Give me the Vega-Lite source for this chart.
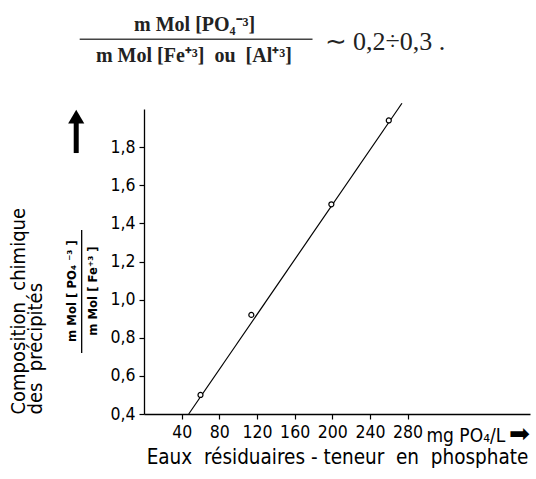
{
  "$schema": "https://vega.github.io/schema/vega-lite/v6.json",
  "width": 386,
  "height": 305,
  "autosize": {"type": "none"},
  "padding": {"left": 144, "top": 109, "right": 6, "bottom": 65},
  "background": "white",
  "config": {
    "view": {"stroke": null},
    "font": "DejaVu Sans Condensed",
    "axis": {
      "grid": false,
      "domainColor": "black",
      "domainWidth": 1.3,
      "tickColor": "black",
      "tickWidth": 1.2,
      "tickSize": 5,
      "labelColor": "black",
      "labelFont": "DejaVu Sans Condensed",
      "labelFontSize": 17.5,
      "labelPadding": 4,
      "labelOverlap": false,
      "labelBound": false,
      "titleColor": "black",
      "titleFont": "DejaVu Sans Condensed",
      "titleFontWeight": "normal",
      "titleFontSize": 20
    }
  },
  "datasets": {
    "points": [
      {"phosphate": 60, "ratio": 0.5},
      {"phosphate": 114, "ratio": 0.92},
      {"phosphate": 199, "ratio": 1.5},
      {"phosphate": 260, "ratio": 1.94}
    ],
    "fit": [
      {"phosphate": 47.5, "ratio": 0.4},
      {"phosphate": 274, "ratio": 2.03}
    ]
  },
  "layer": [
    {
      "data": {"name": "fit"},
      "mark": {"type": "line", "color": "black", "strokeWidth": 1.2, "clip": false},
      "encoding": {
        "x": {
          "field": "phosphate",
          "type": "quantitative",
          "scale": {"domain": [0, 410], "nice": false, "zero": false},
          "axis": {
            "values": [40, 80, 120, 160, 200, 240, 280],
            "title": "Eaux\u00a0 résiduaires\u00a0-\u00a0teneur\u00a0 en\u00a0 phosphate",
            "titleFontSize": 20.5,
            "titlePadding": 7
          }
        },
        "y": {
          "field": "ratio",
          "type": "quantitative",
          "scale": {"domain": [0.4, 2.0], "nice": false, "zero": false},
          "axis": {
            "values": [0.4, 0.6, 0.8, 1.0, 1.2, 1.4, 1.6, 1.8],
            "labelExpr": "replace(format(datum.value, '.1f'), '.', ',')",
            "title": ["Composition\u00a0 chimique", "des\u00a0 précipités"],
            "titleAnchor": "start",
            "titleLineHeight": 17,
            "titlePadding": 64
          }
        }
      }
    },
    {
      "data": {"name": "points"},
      "mark": {"type": "point", "shape": "circle", "filled": true, "fill": "white", "stroke": "black", "strokeWidth": 1.2, "size": 25, "opacity": 1},
      "encoding": {
        "x": {"field": "phosphate", "type": "quantitative"},
        "y": {"field": "ratio", "type": "quantitative"}
      }
    },
    {
      "data": {"values": [{}]},
      "mark": {"type": "text", "font": "Liberation Serif", "fontWeight": "bold", "fontSize": 20, "align": "center", "baseline": "middle", "color": "#222", "clip": false, "text": "m Mol [PO₄⁻³]"},
      "encoding": {"x": {"datum": 53.8, "type": "quantitative"}, "y": {"datum": 2.44, "type": "quantitative"}}
    },
    {
      "data": {"values": [{}]},
      "mark": {"type": "text", "font": "Liberation Serif", "fontWeight": "bold", "fontSize": 20, "align": "center", "baseline": "middle", "color": "#222", "clip": false, "text": "m Mol [Fe⁺³]\u00a0 ou\u00a0 [Al⁺³]"},
      "encoding": {"x": {"datum": 53, "type": "quantitative"}, "y": {"datum": 2.277, "type": "quantitative"}}
    },
    {
      "data": {"values": [{}]},
      "mark": {"type": "rule", "color": "#444", "strokeWidth": 1.3, "clip": false},
      "encoding": {"x": {"datum": -68.3, "type": "quantitative"}, "x2": {"datum": 179}, "y": {"datum": 2.366, "type": "quantitative"}}
    },
    {
      "data": {"values": [{}]},
      "mark": {"type": "text", "font": "Liberation Serif", "fontSize": 26, "align": "left", "baseline": "middle", "color": "#222", "clip": false, "text": "∼ 0,2÷0,3\u00a0."},
      "encoding": {"x": {"datum": 191.8, "type": "quantitative"}, "y": {"datum": 2.35, "type": "quantitative"}}
    },
    {
      "data": {"values": [{}]},
      "mark": {"type": "text", "fontWeight": "bold", "fontSize": 13, "angle": 270, "align": "center", "baseline": "middle", "color": "black", "clip": false, "text": "m Mol [ PO₄ ⁻³ ]"},
      "encoding": {"x": {"datum": -76.8, "type": "quantitative"}, "y": {"datum": 1.045, "type": "quantitative"}}
    },
    {
      "data": {"values": [{}]},
      "mark": {"type": "text", "fontWeight": "bold", "fontSize": 13, "angle": 270, "align": "center", "baseline": "middle", "color": "black", "clip": false, "text": "m Mol [ Fe⁺³ ]"},
      "encoding": {"x": {"datum": -54.5, "type": "quantitative"}, "y": {"datum": 1.045, "type": "quantitative"}}
    },
    {
      "data": {"values": [{}]},
      "mark": {"type": "rule", "color": "black", "strokeWidth": 1.3, "clip": false},
      "encoding": {"x": {"datum": -66.2, "type": "quantitative"}, "y": {"datum": 0.72, "type": "quantitative"}, "y2": {"datum": 1.365}}
    },
    {
      "data": {"values": [{}]},
      "mark": {"type": "rule", "color": "black", "strokeWidth": 5, "clip": false},
      "encoding": {"x": {"datum": -72, "type": "quantitative"}, "y": {"datum": 1.769, "type": "quantitative"}, "y2": {"datum": 1.93}}
    },
    {
      "data": {"values": [{}]},
      "mark": {"type": "point", "shape": "triangle-up", "filled": true, "color": "black", "size": 260, "opacity": 1, "clip": false},
      "encoding": {"x": {"datum": -72, "type": "quantitative"}, "y": {"datum": 1.96, "type": "quantitative"}}
    },
    {
      "data": {"values": [{}]},
      "mark": {"type": "text", "fontSize": 19, "align": "left", "baseline": "alphabetic", "dy": 28, "color": "black", "clip": false, "text": "mg PO₄/L"},
      "encoding": {"x": {"datum": 300, "type": "quantitative"}, "y": {"datum": 0.4, "type": "quantitative"}}
    },
    {
      "data": {"values": [{}]},
      "mark": {"type": "text", "font": "DejaVu Sans", "fontSize": 25, "align": "right", "baseline": "middle", "dy": 20, "color": "black", "clip": false, "text": "➡"},
      "encoding": {"x": {"datum": 410, "type": "quantitative"}, "y": {"datum": 0.4, "type": "quantitative"}}
    }
  ]
}
